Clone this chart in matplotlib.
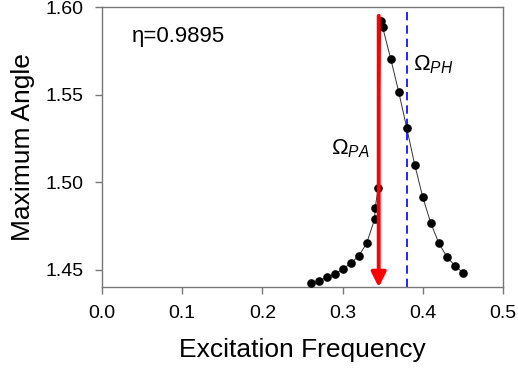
import numpy as np
import matplotlib
matplotlib.use("Agg")
import matplotlib.pyplot as plt

plt.rcParams['font.family'] = ['Liberation Sans', 'DejaVu Sans']
plt.rcParams['mathtext.fontset'] = 'custom'
plt.rcParams['mathtext.rm'] = 'Liberation Sans'
plt.rcParams['mathtext.it'] = 'Liberation Sans:italic'

# data
freq = [0.26, 0.27, 0.28, 0.29, 0.30, 0.31, 0.32, 0.33, 0.34, 0.3405, 0.3445,
        0.3475, 0.35, 0.36, 0.37, 0.38, 0.39, 0.40, 0.41, 0.42, 0.43, 0.44, 0.45]
angle = [1.4422, 1.4436, 1.4457, 1.4474, 1.4502, 1.4537, 1.4578, 1.4651, 1.4790,
         1.4851, 1.4969, 1.5922, 1.5884, 1.5705, 1.5515, 1.5309, 1.5098, 1.4914,
         1.4766, 1.4651, 1.4574, 1.4523, 1.4483]
omega_pa = 0.345
omega_ph = 0.38
eta_label = "\u03b7=0.9895"
xticks = [0.0, 0.1, 0.2, 0.3, 0.4, 0.5]
yticks = [1.45, 1.50, 1.55, 1.60]

fig = plt.figure(figsize=(5.18, 3.73), dpi=100)
ax = fig.add_axes([0.197, 0.23, 0.774, 0.751])

ax.plot(freq, angle, color='#333333', lw=0.7, marker='o', ms=5.2,
        mfc='black', mec='black', zorder=3)

ax.axvline(omega_ph, color='blue', ls=(0, (5, 3)), lw=1.2, zorder=2)
ax.annotate('', xy=(omega_pa, 1.44), xytext=(omega_pa, 1.595),
            arrowprops=dict(arrowstyle='-|>', color='red', lw=2.8,
                            mutation_scale=22, shrinkA=0, shrinkB=0),
            zorder=4)

ax.text(0.037, 1.583, eta_label, fontsize=16, ha='left', va='center')
ax.text(0.388, 1.567, r'$\Omega_{PH}$', fontsize=16, ha='left', va='center')
ax.text(0.286, 1.519, r'$\Omega_{PA}$', fontsize=16, ha='left', va='center')

ax.set_xlim(0.0, 0.5)
ax.set_ylim(1.44, 1.60)
ax.set_xticks(xticks)
ax.set_xticklabels([f"{t:.1f}" for t in xticks])
ax.set_yticks(yticks)
ax.set_yticklabels([f"{t:.2f}" for t in yticks])
ax.tick_params(labelsize=14, length=5, width=1, color='#777777', direction='out', pad=8)

for s in ax.spines.values():
    s.set_color('#777777')
    s.set_linewidth(1)

ax.set_xlabel("Excitation Frequency", fontsize=19, labelpad=11)
ax.set_ylabel("Maximum Angle", fontsize=19, labelpad=8)

fig.savefig("out.png", dpi=100)
